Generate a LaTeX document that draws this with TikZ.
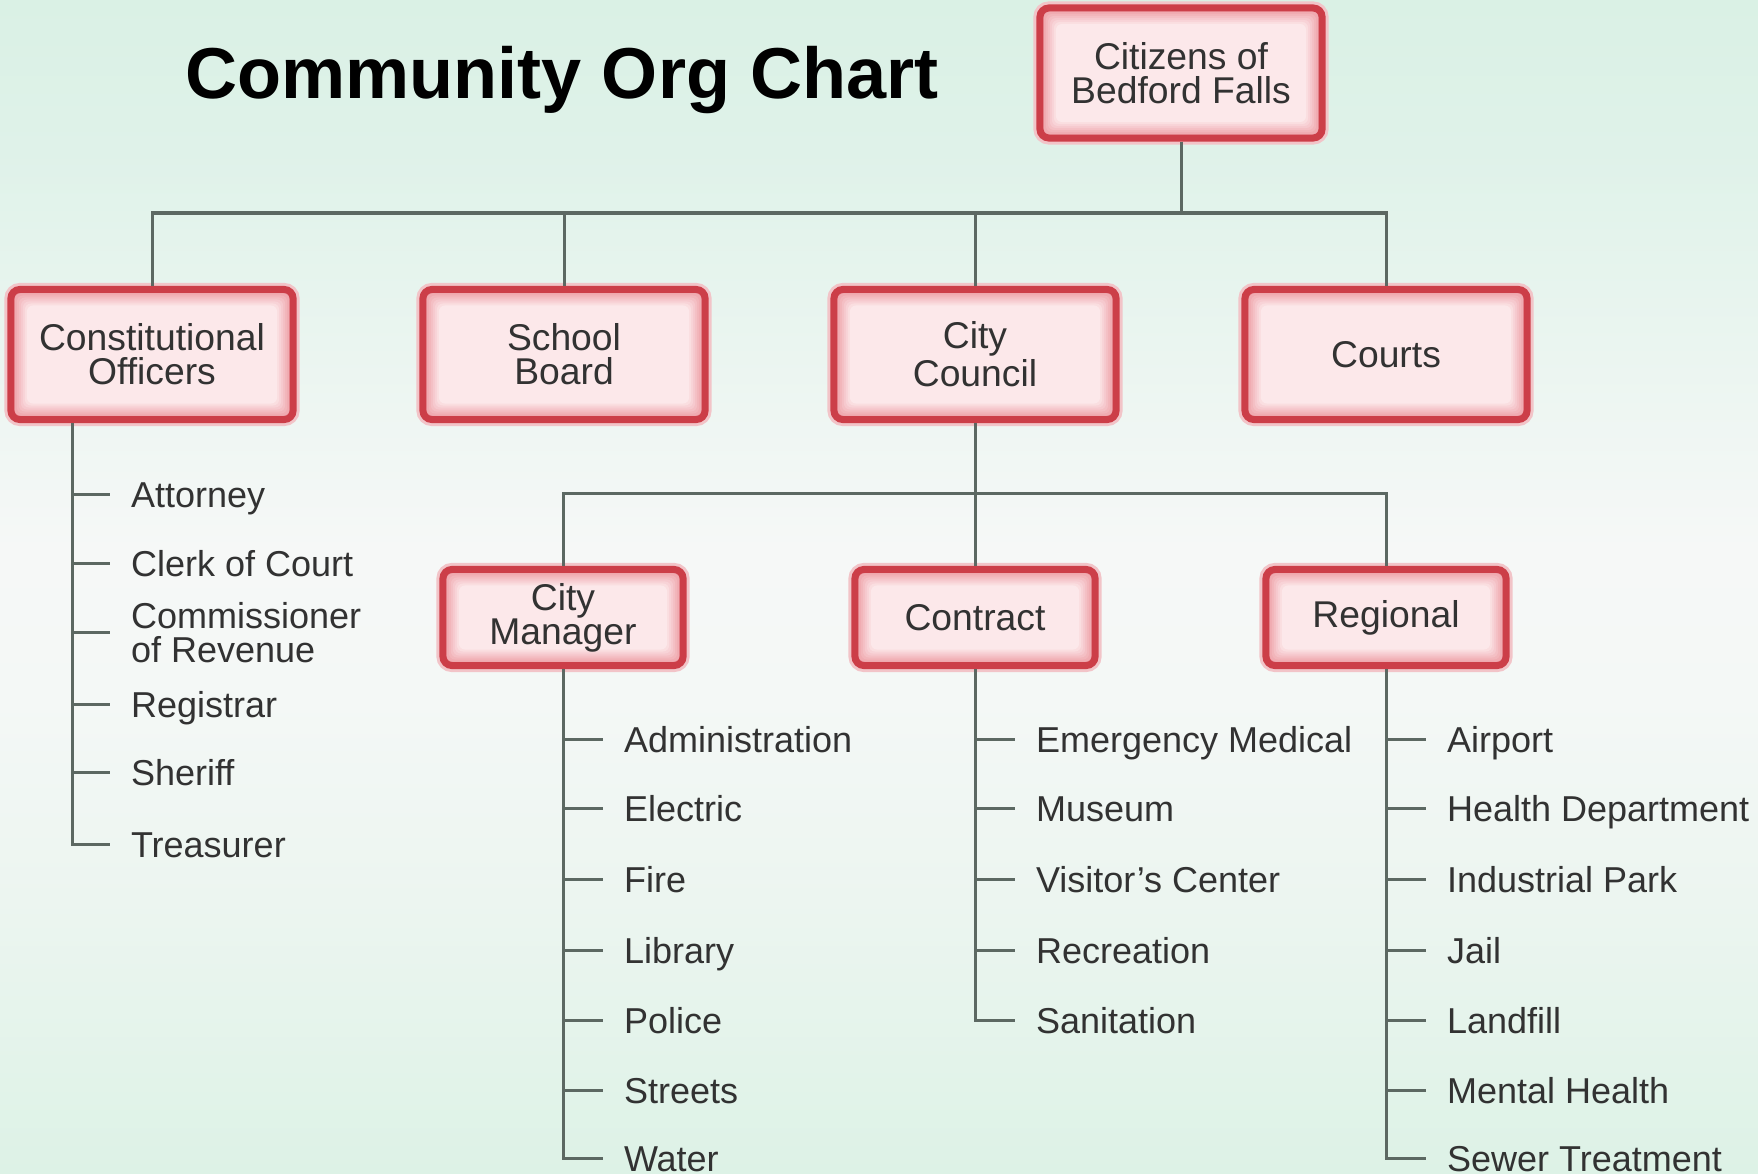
\documentclass[tikz,border=0pt]{standalone}
\usepackage{fontspec}
\setmainfont{Liberation Sans}
\usetikzlibrary{calc}
\definecolor{bgtop}{RGB}{218,241,229}
\definecolor{bgtwo}{RGB}{223,242,233}
\definecolor{bgmid}{RGB}{246,248,247}
\definecolor{bgmid2}{RGB}{244,248,246}
\definecolor{bglow}{RGB}{236,245,240}
\definecolor{bgbot}{RGB}{221,242,230}
\definecolor{boxred}{RGB}{204,62,72}
\definecolor{boxhalo}{RGB}{242,196,200}
\definecolor{boxedge}{RGB}{236,150,158}
\definecolor{boxin}{RGB}{252,232,234}
\definecolor{linegray}{RGB}{92,104,98}
\definecolor{txt}{RGB}{50,50,50}
\pgfdeclareverticalshading{bgshade}{100bp}{color(0bp)=(bgbot); color(25bp)=(bgbot);
  color(36.65bp)=(bglow); color(45.15bp)=(bgmid2); color(51.55bp)=(bgmid);
  color(68.6bp)=(bgtwo); color(75bp)=(bgtop); color(100bp)=(bgtop)}
\begin{document}
\begin{tikzpicture}[x=0.01cm,y=-0.01cm,
  box/.style={draw=boxred, line width=0.07cm, rounded corners=0.09cm, fill=boxedge,
    preaction={draw=boxhalo, line width=0.13cm},
    align=center, text=txt, font=\fontsize{10.6}{9.67}\selectfont,
    minimum width=2.82cm, minimum height=1.30cm, inner sep=0pt,
    path picture={
      \foreach \i in {1,...,8}{
        \pgfmathsetmacro{\p}{\i*12.5}
        \fill[boxin!\p!boxedge, rounded corners=0.06cm]
          ([shift={(\i*0.02cm,-\i*0.02cm)}]path picture bounding box.north west)
          rectangle ([shift={(-\i*0.02cm,\i*0.02cm)}]path picture bounding box.south east);
      }
    }},
  smallbox/.style={box, minimum width=2.40cm, minimum height=0.96cm},
  itembase/.style={anchor=west, inner sep=0pt, outer xsep=0.21cm, outer ysep=0pt,
    text=txt, font=\fontsize{10.24}{9.67}\selectfont},
  item/.style={itembase, text height=0.26cm, text depth=0pt},
  item2/.style={itembase, align=left},
  conn/.style={draw=linegray, line width=0.03cm}]
\useasboundingbox (0,0) rectangle (1758,1173);
\clip (0,0) rectangle (1758,1173);
\shade[shading=bgshade] (0,0) rectangle (1758,1173);

% title
\node[anchor=base, inner sep=0pt, font=\fontsize{20.5}{24}\selectfont\bfseries, text=black]
  (title) at (562,99) {Community Org Chart};

% boxes
\node[box] (cit) at (1181,73) {Citizens of\\Bedford Falls};
\node[box] (co) at (152,354.5) {Constitutional\\Officers};
\node[box] (sb) at (564,354.5) {School\\Board};
\node[box] (cc) at (975,354.5) {City\\Council};
\node[box] (ct) at (1386,354.5) {Courts};
\node[smallbox] (cm) at (563,617.5) {City\\Manager};
\node[smallbox] (con) at (975,617.5) {Contract};
\node[smallbox] (rg) at (1386,617.5) {Regional};

% top-level connectors
\coordinate (bus1) at (0,213);
\draw[conn] (cit.south) -- (cit.south |- bus1);
\draw[conn] (co.north) |- (cit.south |- bus1);
\draw[conn] (ct.north) |- (cit.south |- bus1);
\draw[conn] (sb.north) -- (sb.north |- bus1);
\draw[conn] (cc.north) -- (cc.north |- bus1);

\coordinate (bus2) at (0,493);
\draw[conn] (cc.south) -- (con.north);
\draw[conn] (cm.north) |- (cc.south |- bus2);
\draw[conn] (rg.north) |- (cc.south |- bus2);

% Constitutional Officers list
\node[item]  (a1) at (110,494.5) {Attorney};
\node[item]  (a2) at (110,563) {Clerk of Court};
\node[item2] (a3) at (110,632.5) {Commissioner\\of Revenue};
\node[item]  (a4) at (110,704) {Registrar};
\node[item]  (a5) at (110,772.5) {Sheriff};
\node[item]  (a6) at (110,844) {Treasurer};
\coordinate (coS) at (72,0);
\draw[conn] (co.south -| coS) |- (a6.west);
\foreach \n in {a1,a2,a3,a4,a5} \draw[conn] (\n.west -| coS) -- (\n.west);

% City Manager list
\node[item] (m1) at (603,739) {Administration};
\node[item] (m2) at (603,808.5) {Electric};
\node[item] (m3) at (603,879) {Fire};
\node[item] (m4) at (603,950) {Library};
\node[item] (m5) at (603,1020) {Police};
\node[item] (m6) at (603,1090) {Streets};
\node[item] (m7) at (603,1158) {Water};
\draw[conn] (cm.south) |- (m7.west);
\foreach \n in {m1,m2,m3,m4,m5,m6} \draw[conn] (\n.west -| cm.south) -- (\n.west);

% Contract list
\node[item] (c1) at (1015,739) {Emergency Medical};
\node[item] (c2) at (1015,808.5) {Museum};
\node[item] (c3) at (1015,879) {Visitor's Center};
\node[item] (c4) at (1015,950) {Recreation};
\node[item] (c5) at (1015,1020) {Sanitation};
\draw[conn] (con.south) |- (c5.west);
\foreach \n in {c1,c2,c3,c4} \draw[conn] (\n.west -| con.south) -- (\n.west);

% Regional list
\node[item] (r1) at (1426,739) {Airport};
\node[item] (r2) at (1426,808.5) {Health Department};
\node[item] (r3) at (1426,879) {Industrial Park};
\node[item] (r4) at (1426,950) {Jail};
\node[item] (r5) at (1426,1020) {Landfill};
\node[item] (r6) at (1426,1090) {Mental Health};
\node[item] (r7) at (1426,1158) {Sewer Treatment};
\draw[conn] (rg.south) |- (r7.west);
\foreach \n in {r1,r2,r3,r4,r5,r6} \draw[conn] (\n.west -| rg.south) -- (\n.west);
\end{tikzpicture}
\end{document}
